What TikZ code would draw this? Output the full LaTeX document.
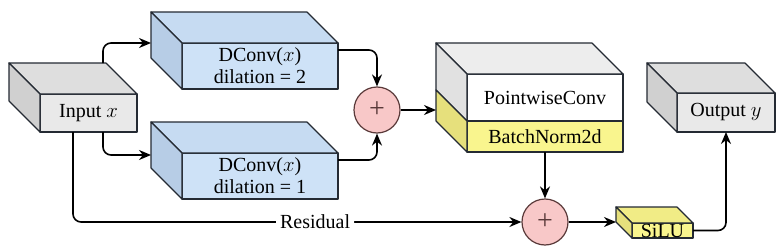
\documentclass[tikz,border=0pt]{standalone}
\usepackage{fontspec}
\setmainfont{LiberationSerif}[Extension=.ttf, UprightFont=*-Regular, BoldFont=*-Bold, ItalicFont=*-Italic]
\usetikzlibrary{arrows.meta,calc}
\definecolor{edge}{HTML}{242A33}
\definecolor{blueF}{HTML}{CEE2F7}
\definecolor{blueT}{HTML}{C6DBF2}
\definecolor{blueS}{HTML}{B7CDE6}
\definecolor{grayF}{HTML}{E9E9E9}
\definecolor{grayT}{HTML}{DEDEDE}
\definecolor{grayS}{HTML}{D0D0D0}
\definecolor{pwT}{HTML}{EDEDED}
\definecolor{pwS}{HTML}{E1E1E1}
\definecolor{yelF}{HTML}{F9F58E}
\definecolor{yelT}{HTML}{F1EC86}
\definecolor{yelS}{HTML}{E6E07C}
\definecolor{plusfill}{HTML}{F8C8C8}
\definecolor{plusedge}{HTML}{5A3A3A}
\tikzset{
  face/.style={draw=edge, line width=1.2pt, line join=round},
  front/.style={face, inner sep=0pt, outer sep=0pt, anchor=north west, align=center, text=black},
  arr/.style={line width=1.6pt, -{Stealth[length=12pt,width=10pt]}, rounded corners=8pt},
  plusnode/.style={circle, draw=plusedge, fill=plusfill, line width=1.2pt, minimum size=46pt, inner sep=0pt, text=plusedge, font=\fontsize{28}{28}\selectfont},
}
\newcommand\sidefaces[4]{%
  \draw[face, fill=#3] (#1.north west) -- ++(-#2,-#2) -- ($(#1.north east)+(-#2,-#2)$) -- (#1.north east) -- cycle;
  \draw[face, fill=#4] (#1.north west) -- ++(-#2,-#2) -- ($(#1.south west)+(-#2,-#2)$) -- (#1.south west) -- cycle;
}
\begin{document}
\begin{tikzpicture}[x=1pt,y=-1pt, font=\fontsize{20}{22}\selectfont]
\useasboundingbox (0,0) rectangle (784,249);
\fill[white] (0,0) rectangle (784,249);

% Input
\node[front, fill=grayF, minimum width=97pt, minimum height=38pt] (in) at (40,94) {Input $x$};
\sidefaces{in}{31}{grayT}{grayS}

% DConv boxes
\node[front, fill=blueF, minimum width=156pt, minimum height=46pt] (dc1) at (182,43) {DConv($x$)\\dilation = 2};
\sidefaces{dc1}{31}{blueT}{blueS}
\node[front, fill=blueF, minimum width=156pt, minimum height=46pt] (dc2) at (182,153) {DConv($x$)\\dilation = 1};
\sidefaces{dc2}{31}{blueT}{blueS}

% Pointwise + BN
\node[front, fill=white, minimum width=156pt, minimum height=47pt] (pw) at (467,74) {PointwiseConv};
\node[front, fill=yelF, minimum width=156pt, minimum height=31pt] (bn) at (pw.south west) {BatchNorm2d};
\draw[face, fill=pwT] (pw.north west) -- ++(-31,-31) -- ($(pw.north east)+(-31,-31)$) -- (pw.north east) -- cycle;
\draw[face, fill=pwS] (pw.north west) -- ++(-31,-31) -- ($(pw.south west)+(-31,-31)$) -- (pw.south west) -- cycle;
\draw[face, fill=yelS] (bn.north west) -- ++(-31,-31) -- ($(bn.south west)+(-31,-31)$) -- (bn.south west) -- cycle;
\coordinate (pwc) at ($(pw.north west)+(-31,-31)$);

% SiLU
\node[front, fill=yelF, minimum width=61pt, minimum height=15pt] (silu) at (632,223) {SiLU};
\sidefaces{silu}{16}{yelT}{yelS}
\coordinate (siluc) at ($(silu.north west)+(-16,-16)$);

% Output
\node[front, fill=grayF, minimum width=98pt, minimum height=39pt] (out) at (677,93) {Output $y$};
\sidefaces{out}{30}{grayT}{grayS}

% Plus nodes
\node[plusnode] (p1) at (377,110) {+};
\node[plusnode] (p2) at (545,222) {+};

% Connectors
\draw[arr] ($(in.north east)+(-34,-31)$) |- ($(dc1.north west)+(-31,0)$);
\draw[arr] ($(in.south east)+(-34,0)$) |- ($(dc2.north west)+(-31,2)$);
\draw[arr] ($(in.south west)+(33,0)$) |- node[pos=0.77, fill=white, inner sep=4pt] {Residual} (p2.west);
\draw[arr] ($(dc1.north east)+(0,7)$) -| (p1.north);
\draw[arr] ($(dc2.north east)+(0,7)$) -| (p1.south);
\draw[arr] (p1.east) -- (p1.east -| pwc);
\draw[arr] (bn.south) -- (p2.north);
\draw[arr] (p2.east) -- (p2.east -| siluc);
\draw[arr] (silu.east) -| (out.south);
\end{tikzpicture}
\end{document}
